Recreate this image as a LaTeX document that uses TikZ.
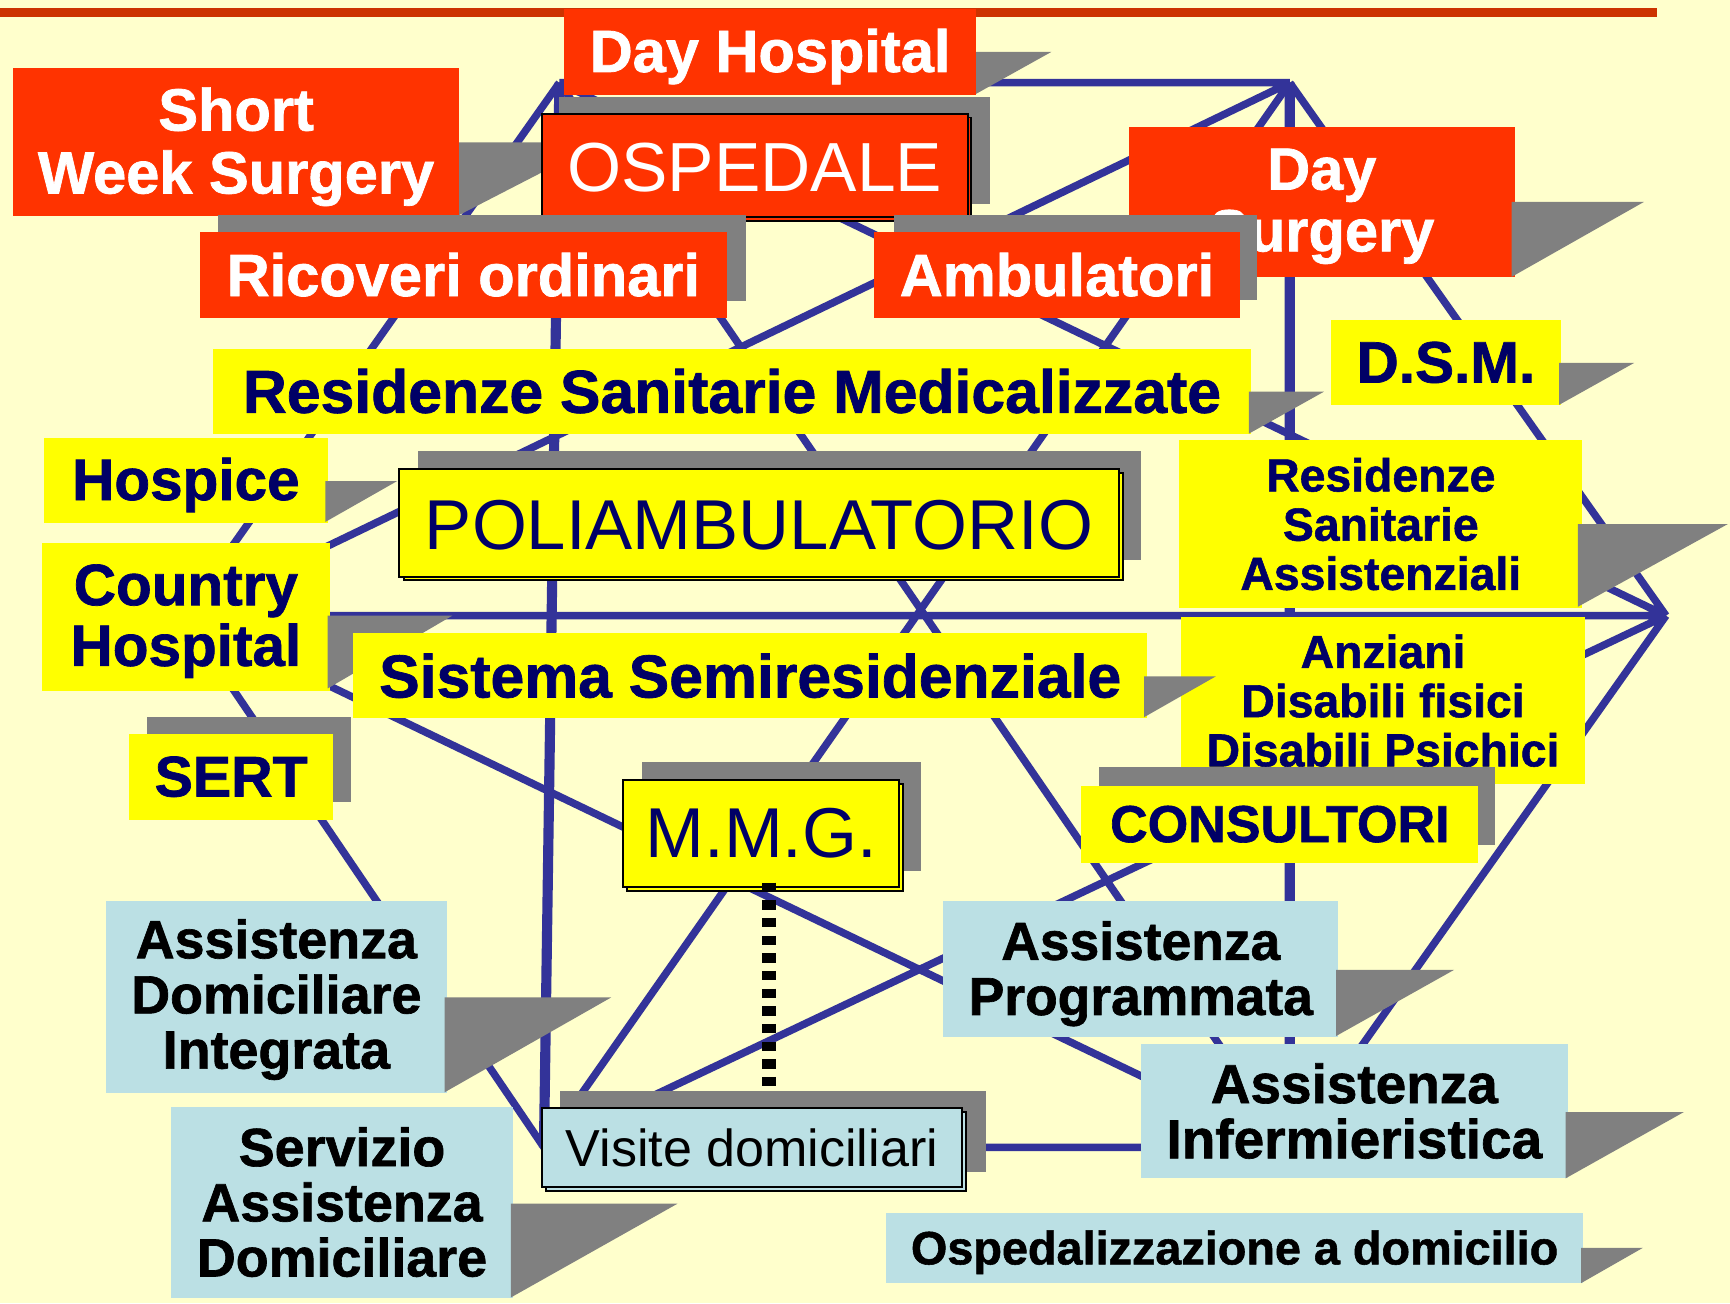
\documentclass[tikz,border=0pt]{standalone}
\usepackage{fontspec}
\setmainfont{Liberation Sans}[BoldFeatures={FakeBold=1.2}]
\usetikzlibrary{fit}
\definecolor{bgc}{HTML}{FFFFCC}
\definecolor{hred}{HTML}{FF3300}
\definecolor{hyel}{HTML}{FFFF00}
\definecolor{hblue}{RGB}{187,224,228}
\definecolor{shgray}{HTML}{808080}
\definecolor{navy}{HTML}{000066}
\definecolor{linkblue}{HTML}{333399}
\definecolor{toplinec}{HTML}{CC3300}
\newcommand{\fsz}[2]{\fontsize{#1}{#2}\selectfont}
\begin{document}
\begin{tikzpicture}[x=0.5pt,y=-0.5pt,
  boxbase/.style={inner sep=0pt, outer sep=0pt, draw=none},
  redbox/.style={boxbase, fill=hred},
  yelbox/.style={boxbase, fill=hyel},
  bluebox/.style={boxbase, fill=hblue},
  framed/.style={draw=black, line width=0.9pt},
  shadowc/.style={fill=shgray},
  lbl/.style={inner sep=0pt, align=center},
  wtxt/.style={lbl, text=white},
  ntxt/.style={lbl, text=navy},
  ktxt/.style={lbl, text=black},
  link/.style={draw=linkblue, line width=3.4pt},
  vlink/.style={draw=linkblue, line width=4.6pt},
  dotline/.style={draw=black, line width=6pt, dash pattern=on 4.3pt off 3.7pt}
]
\useasboundingbox (0,0) rectangle (1568,1181);
\fill[bgc] (0,0) rectangle (1568,1181);
\draw[toplinec, line width=3.75pt] (0,11.3) -- (1502,11.3);

% hexagon vertices
\coordinate (A) at (507,75);
\coordinate (B) at (1169,75);
\coordinate (C) at (1510,558);
\coordinate (D) at (1169,1040);
\coordinate (E) at (493,1040);
\coordinate (F) at (166,558);

% connectors
\draw[link] (A) -- (B)  (A) -- (C)  (A) -- (D)  (A) -- (F)
            (B) -- (C)  (B) -- (E)  (B) -- (F)
            (C) -- (D)  (C) -- (E)  (C) -- (F)
            (D) -- (E)  (D) -- (F)  (E) -- (F);
\draw[vlink] (A) -- (E)  (B) -- (D);

% Day Hospital
\fill[shadowc] (883,47) -- (953,47) -- (883,86) -- cycle;
\node[redbox, fit={(511,8.5)(885,86)}] (dh) {};
\node[wtxt, font=\bfseries\fsz{27}{28}, yshift=-2pt] (dht) at (dh.center) {Day Hospital};

% Short Week Surgery
\fill[shadowc] (414,129) -- (544,129) -- (414,196) -- cycle;
\node[redbox, fit={(12,62)(416,196)}] (sws) {};
\node[wtxt, font=\bfseries\fsz{27}{28.5}, yshift=-2pt] (swst) at (sws.center) {Short\\Week Surgery};

% OSPEDALE
\fill[shadowc] (507,88) rectangle (897,185);
\fill[hred, framed] (494.5,106.5) rectangle (880.5,200.5);
\node[redbox, framed, fit={(491,103)(877,197)}] (osp) {};
\node[wtxt, font=\fsz{31.5}{33}, yshift=-1pt] (ospt) at (osp.center) {OSPEDALE};

% Day Surgery
\node[redbox, fit={(1023,115)(1373,251)}] (ds) {};
\node[wtxt, font=\bfseries\fsz{27}{28}, yshift=-2pt] (dst) at (ds.center) {Day\\Surgery};
\fill[shadowc] (1370,183) -- (1490,183) -- (1370,251) -- cycle;

% Ricoveri ordinari
\fill[shadowc] (198,195) rectangle (676,273);
\node[redbox, fit={(181,210)(659,288)}] (ric) {};
\node[wtxt, font=\bfseries\fsz{27}{28}] (rict) at (ric.center) {Ricoveri ordinari};

% Ambulatori
\fill[shadowc] (810,195) rectangle (1139,272);
\node[redbox, fit={(792,210)(1124,288)}] (amb) {};
\node[wtxt, font=\bfseries\fsz{27}{28}] (ambt) at (amb.center) {Ambulatori};

% Residenze Sanitarie Medicalizzate
\node[yelbox, fit={(193,316)(1134,393)}] (rsm) {};
\node[ntxt, font=\bfseries\fsz{27.5}{28}] (rsmt) at (rsm.center) {Residenze Sanitarie Medicalizzate};
\fill[shadowc] (1132,355) -- (1200,355) -- (1132,393) -- cycle;

% D.S.M.
\node[yelbox, fit={(1206,290)(1415,367)}] (dsm) {};
\node[ntxt, font=\bfseries\fsz{26.5}{28}] (dsmt) at (dsm.center) {D.S.M.};
\fill[shadowc] (1413,329) -- (1481,329) -- (1413,367) -- cycle;

% Hospice
\node[yelbox, fit={(40,397)(297,474)}] (hos) {};
\node[ntxt, font=\bfseries\fsz{26.5}{28}, yshift=-2pt] (host) at (hos.center) {Hospice};
\fill[shadowc] (295,436) -- (360,436) -- (295,473) -- cycle;

% POLIAMBULATORIO
\fill[shadowc] (379,409) rectangle (1034,508);
\fill[hyel, framed] (366,428.5) rectangle (1017.5,526);
\node[yelbox, framed, fit={(362,425)(1014,523)}] (pol) {};
\node[ntxt, font=\fsz{32}{33}, yshift=-1pt] (polt) at (pol.center) {POLIAMBULATORIO};

% Country Hospital
\node[yelbox, fit={(38,492)(299,626)}] (ch) {};
\node[ntxt, font=\bfseries\fsz{26.5}{27.5}, yshift=-2pt] (cht) at (ch.center) {Country\\Hospital};
\fill[shadowc] (297,558) -- (410,558) -- (297,624) -- cycle;

% Residenze Sanitarie Assistenziali
\node[yelbox, fit={(1069,399)(1434,551)}] (rsa) {};
\node[ntxt, font=\bfseries\fsz{21}{22.3}] (rsat) at (rsa.center) {Residenze\\Sanitarie\\Assistenziali};
\fill[shadowc] (1430,475) -- (1566,475) -- (1430,550) -- cycle;

% Anziani
\node[yelbox, fit={(1070,559)(1437,711)}] (anz) {};
\node[ntxt, font=\bfseries\fsz{21}{22.3}] (anzt) at (anz.center) {Anziani\\Disabili fisici\\Disabili Psichici};

% Sistema Semiresidenziale
\node[yelbox, fit={(320,574)(1040,651)}] (sis) {};
\node[ntxt, font=\bfseries\fsz{27.5}{28}] (sist) at (sis.center) {Sistema Semiresidenziale};
\fill[shadowc] (1037,613) -- (1102,613) -- (1037,650) -- cycle;

% SERT
\fill[shadowc] (133,650) rectangle (318,727);
\node[yelbox, fit={(117,665)(302,743)}] (sert) {};
\node[ntxt, font=\bfseries\fsz{26}{28}] (sertt) at (sert.center) {SERT};

% M.M.G.
\fill[shadowc] (582,691) rectangle (835,789);
\fill[hyel, framed] (568.5,710.5) rectangle (818.5,807.5);
\node[yelbox, framed, fit={(565,707)(815,804)}] (mmg) {};
\node[ntxt, font=\fsz{32}{33}] (mmgt) at (mmg.center) {M.M.G.};

% CONSULTORI
\fill[shadowc] (996,695) rectangle (1355,766);
\node[yelbox, fit={(980,712)(1340,782)}] (con) {};
\node[ntxt, font=\bfseries\fsz{23.6}{25}] (cont) at (con.center) {CONSULTORI};

% Assistenza Domiciliare Integrata
\node[bluebox, fit={(96,817)(405,991)}] (adi) {};
\node[ktxt, font=\bfseries\fsz{24.4}{25}, yshift=-1pt] (adit) at (adi.center) {Assistenza\\Domiciliare\\Integrata};
\fill[shadowc] (403,904) -- (554,904) -- (403,990) -- cycle;

% Servizio Assistenza Domiciliare
\node[bluebox, fit={(155,1003)(465,1176)}] (sad) {};
\node[ktxt, font=\bfseries\fsz{24.4}{25}] (sadt) at (sad.center) {Servizio\\Assistenza\\Domiciliare};
\fill[shadowc] (463,1091) -- (614,1091) -- (463,1176) -- cycle;

% Visite domiciliari
\fill[shadowc] (508,989) rectangle (894,1062);
\fill[hblue, framed] (494.5,1007.5) rectangle (875.5,1079.5);
\node[bluebox, framed, fit={(491,1004)(872,1076)}] (vis) {};
\node[ktxt, font=\fsz{23.6}{25}] (vist) at (vis.center) {Visite domiciliari};

% dotted link M.M.G. -> Visite domiciliari
\coordinate (dotS) at (697,800);
\coordinate (dotE) at (697,985);
\draw[dotline] (dotS) -- (dotE);

% Assistenza Programmata
\node[bluebox, fit={(855,817)(1213,940)}] (ap) {};
\node[ktxt, font=\bfseries\fsz{24.2}{25}, yshift=-2pt] (apt) at (ap.center) {Assistenza\\Programmata};
\fill[shadowc] (1211,879) -- (1318,879) -- (1211,939) -- cycle;

% Assistenza Infermieristica
\node[bluebox, fit={(1034,946)(1421,1068)}] (ai) {};
\node[ktxt, font=\bfseries\fsz{24.9}{25}] (ait) at (ai.center) {Assistenza\\Infermieristica};
\fill[shadowc] (1419,1008) -- (1526,1008) -- (1419,1068) -- cycle;

% Ospedalizzazione a domicilio
\node[bluebox, fit={(803,1099)(1435,1163)}] (odo) {};
\node[ktxt, font=\bfseries\fsz{21.2}{22}, yshift=-2pt] (odot) at (odo.center) {Ospedalizzazione a domicilio};
\fill[shadowc] (1433,1131) -- (1489,1131) -- (1433,1163) -- cycle;
\end{tikzpicture}
\end{document}
